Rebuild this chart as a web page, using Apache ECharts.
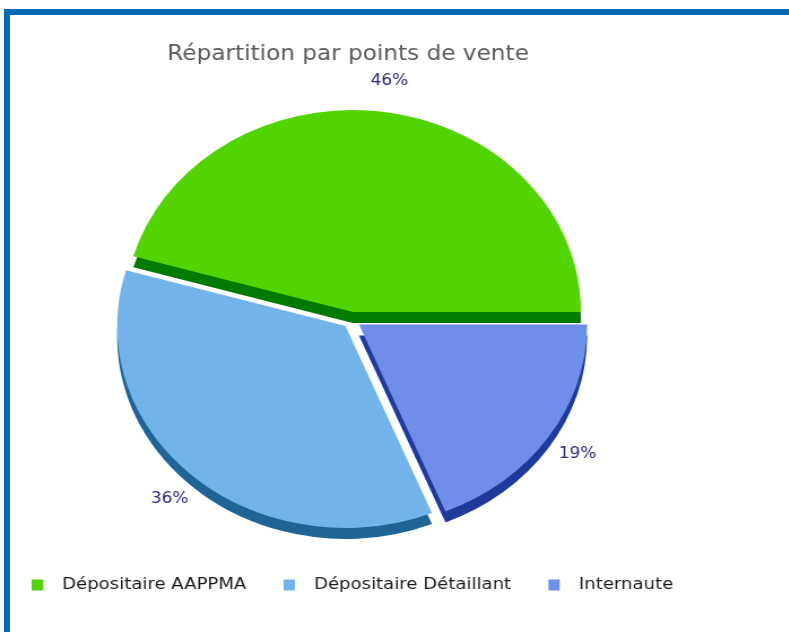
<!DOCTYPE html>
<html>
<head>
<meta charset="utf-8">
<script src="https://cdn.jsdelivr.net/npm/echarts@6/dist/echarts.min.js"></script>
<style>
  html, body { margin: 0; padding: 0; background: #ffffff; overflow: hidden; }
  #frameTop { position: absolute; left: 4px; top: 9px; width: 785px; height: 6px; background: #006ab3; }
  #frameLeft { position: absolute; left: 4px; top: 9px; width: 6px; height: 623px; background: #006ab3; }
  #chart { position: absolute; left: 0; top: 0; width: 698px; height: 632px;
           transform: scaleX(1.13); transform-origin: 0 0; }
</style>
</head>
<body>
<div id="chart"></div>
<div id="frameTop"></div>
<div id="frameLeft"></div>
<script>
// ---- data ----
const titleText = 'Répartition par points de vente';
const categories = ['Dépositaire AAPPMA', 'Dépositaire Détaillant', 'Internaute'];
const values = [46, 36, 19];
const topColors = ['#52d400', '#72b4e9', '#6f8ee9'];
const sideColors = ['#017a01', '#1e6596', '#1d3a9c'];

const FONT = 'DejaVu Sans';
const cx = 311, cy = 320, R = 202, depth = 11, offset = 8;

function mk(colors) {
  return categories.map((n, i) => ({
    name: n, value: values[i], selected: true,
    itemStyle: { color: colors[i] }
  }));
}

const common = {
  type: 'pie', startAngle: 0, clockwise: false,
  selectedMode: 'multiple', selectedOffset: offset,
  silent: true, animation: false,
  emphasis: { disabled: true }, select: { disabled: false },
  avoidLabelOverlap: false
};

const chart = echarts.init(document.getElementById('chart'), null, { renderer: 'canvas' });
chart.setOption({
  backgroundColor: 'transparent',
  title: {
    text: titleText, left: 303, top: 39, textAlign: 'center',
    textStyle: { fontFamily: FONT, fontSize: 20.5, fontWeight: 'normal', color: '#5a5a5a' }
  },
  legend: {
    left: 28, top: 577, orient: 'horizontal', itemGap: 33,
    itemWidth: 10, itemHeight: 11, padding: 0, icon: 'rect',
    selectedMode: false,
    textStyle: { fontFamily: FONT, fontSize: 16, color: '#1a1a1a', padding: [0, 0, 0, 12] },
    data: categories.map((n, i) => ({ name: n, itemStyle: { color: topColors[i] } }))
  },
  series: [
    Object.assign({}, common, {
      name: 'side', z: 1, center: [cx, cy + depth], radius: [0, R],
      label: { show: false }, labelLine: { show: false },
      data: mk(sideColors)
    }),
    Object.assign({}, common, {
      name: 'top', z: 2, center: [cx, cy], radius: [0, R],
      label: { show: false }, labelLine: { show: false },
      data: mk(topColors)
    }),
    Object.assign({}, common, {
      name: 'labels', z: 3, center: [cx, cy], radius: [216, 244],
      label: {
        show: true, position: 'inside', formatter: '{c}%',
        fontFamily: FONT, fontSize: 15, color: '#27287a'
      },
      labelLine: { show: false },
      data: categories.map((n, i) => ({
        name: n, value: values[i], selected: true,
        itemStyle: { color: 'rgba(0,0,0,0)' }
      }))
    })
  ]
});
</script>
</body>
</html>
